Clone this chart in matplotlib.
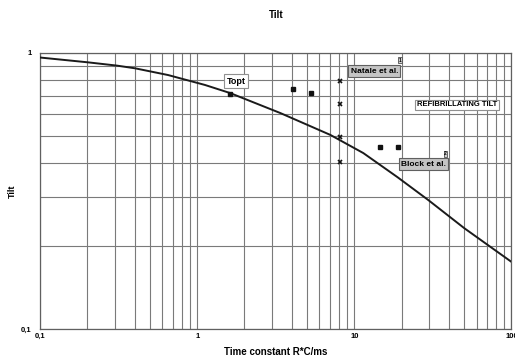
import matplotlib
matplotlib.use("Agg")
import matplotlib.pyplot as plt
from matplotlib.ticker import LogLocator, FixedLocator, FuncFormatter, NullFormatter

plt.rcParams['font.family'] = ['Liberation Sans', 'DejaVu Sans']
plt.rcParams['font.weight'] = 'bold'

# Refibrillating tilt vs. time constant (model curve)
curve_tau = [0.1, 0.134, 0.202, 0.309, 0.403, 0.653, 1.12, 1.62, 3.38, 7.03, 11.4, 18.8, 29.6, 50.0, 100.0]
curve_tilt = [0.963, 0.947, 0.925, 0.900, 0.880, 0.832, 0.766, 0.716, 0.606, 0.505, 0.434, 0.355, 0.293, 0.232, 0.175]

# Optimal tilt
topt_tau = [1.62]
topt_tilt = [0.71]

# Literature values
square_tau = [4.09, 5.32, 14.6, 18.9]
square_tilt = [0.739, 0.718, 0.457, 0.457]
natale_tau = [8.15, 8.15, 8.15, 8.15]
natale_tilt = [0.794, 0.652, 0.497, 0.402]

x_ticks = [0.1, 1, 10, 100]
y_ticks = [0.1, 1]

fig = plt.figure(figsize=(5.15, 3.62), dpi=100)
ax = fig.add_axes([0.0777, 0.0912, 0.9155, 0.7624])
ax.set_xscale('log')
ax.set_yscale('log')
ax.set_xlim(0.1, 100)
ax.set_ylim(0.1, 1)

grid_col = '#7a7a7a'
ax.xaxis.set_major_locator(FixedLocator(x_ticks))
ax.yaxis.set_major_locator(FixedLocator(y_ticks))
ax.xaxis.set_minor_locator(LogLocator(base=10, subs=range(2, 10)))
ax.yaxis.set_minor_locator(LogLocator(base=10, subs=range(2, 10)))
ax.xaxis.set_minor_formatter(NullFormatter())
ax.yaxis.set_minor_formatter(NullFormatter())
fmt = FuncFormatter(lambda v, p: ('%g' % v).replace('.', ','))
ax.xaxis.set_major_formatter(fmt)
ax.yaxis.set_major_formatter(fmt)
ax.grid(True, which='both', color=grid_col, linewidth=0.8)
ax.tick_params(which='both', length=0, labelsize=5.5)
ax.tick_params(axis='x', pad=3)
ax.tick_params(axis='y', pad=6)
for s in ax.spines.values():
    s.set_color('#606060')
    s.set_linewidth(0.9)

ax.plot(curve_tau, curve_tilt, color='#1a1a1a', linewidth=1.4, zorder=3)
ax.plot(topt_tau, topt_tilt, 's', color='#111111', markersize=3.2, zorder=4)
ax.plot(square_tau, square_tilt, 's', color='#111111', markersize=3.2, linestyle='none', zorder=4)
ax.plot(natale_tau, natale_tilt, 'x', color='#111111', markersize=3.2, markeredgewidth=1.2,
        linestyle='none', zorder=4)

ax.set_title('Tilt', fontsize=7, fontweight='bold', pad=25)
ax.set_xlabel('Time constant R*C/ms', fontsize=7, fontweight='bold', labelpad=5)
ax.set_ylabel('Tilt', fontsize=6.5, fontweight='bold', labelpad=3)

white_box = dict(boxstyle='square,pad=0.25', facecolor='white', edgecolor='#909090', linewidth=0.8)
gray_box = dict(boxstyle='square,pad=0.25', facecolor='#c4c4c4', edgecolor='#606060', linewidth=0.8)
tiny_box = dict(boxstyle='square,pad=0.1', facecolor='#d0d0d0', edgecolor='#505050', linewidth=0.6)

ax.text(1.77, 0.79, 'Topt', fontsize=6.5, fontweight='bold', ha='center', va='center',
        bbox=white_box, zorder=5)
ax.text(13.4, 0.86, 'Natale et al.', fontsize=6, fontweight='bold', ha='center', va='center',
        bbox=gray_box, zorder=5)
ax.text(19.6, 0.943, '1', fontsize=3.5, fontweight='bold', ha='center', va='center',
        bbox=tiny_box, zorder=5)
ax.text(45.3, 0.648, 'REFIBRILLATING TILT', fontsize=5.5, fontweight='bold', ha='center', va='center',
        bbox=white_box, zorder=5)
ax.text(27.5, 0.396, 'Block et al.', fontsize=6, fontweight='bold', ha='center', va='center',
        bbox=gray_box, zorder=5)
ax.text(38.0, 0.431, '2', fontsize=3.5, fontweight='bold', ha='center', va='center',
        bbox=tiny_box, zorder=5)

fig.savefig('out.png', dpi=100)
